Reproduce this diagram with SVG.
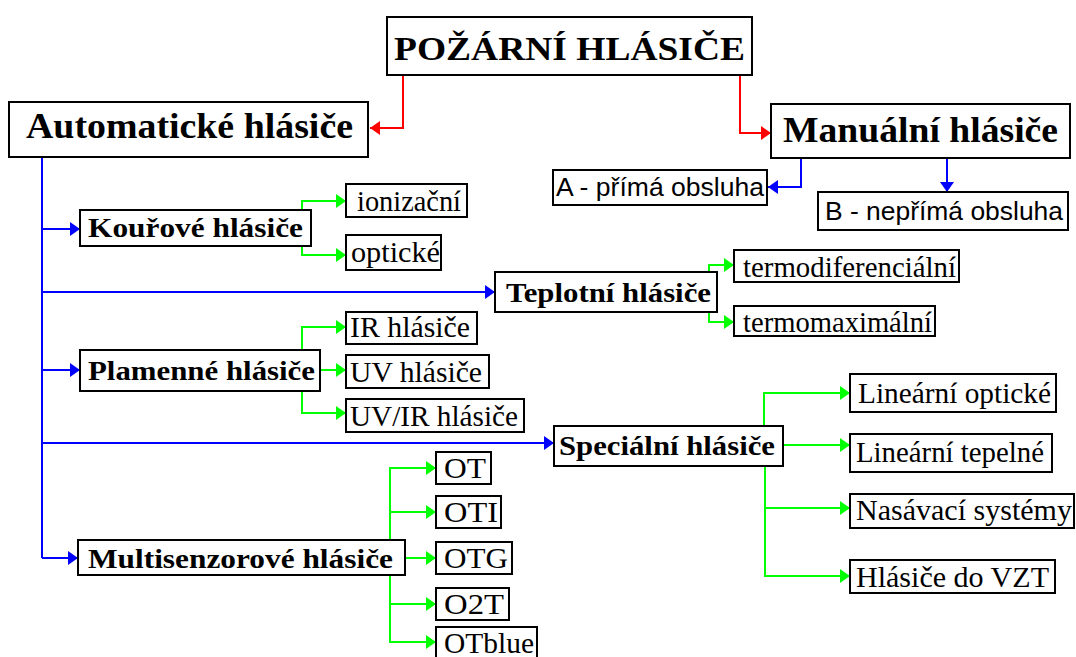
<svg xmlns="http://www.w3.org/2000/svg" width="1076" height="657" viewBox="0 0 1076 657">
<style>
.box{fill:#fff;stroke:#000;stroke-width:2}
.tb{font-family:"Liberation Serif","Times New Roman",serif;font-weight:bold;fill:#000}
.tr{font-family:"Liberation Serif","Times New Roman",serif;fill:#000;font-size:29px}
.ts{font-family:"Liberation Sans",Arial,sans-serif;fill:#000;font-size:25px}
.r{fill:none;stroke:#ff0000;stroke-width:2}
.b{fill:none;stroke:#0000ff;stroke-width:2}
.g{fill:none;stroke:#00ff00;stroke-width:2}
</style>
<defs>
<marker id="ar" markerUnits="userSpaceOnUse" markerWidth="10" markerHeight="14" refX="10" refY="7" orient="auto"><path d="M0,0 L10,7 L0,14 z" fill="#ff0000"/></marker>
<marker id="ab" markerUnits="userSpaceOnUse" markerWidth="10" markerHeight="14" refX="10" refY="7" orient="auto"><path d="M0,0 L10,7 L0,14 z" fill="#0000ff"/></marker>
<marker id="ag" markerUnits="userSpaceOnUse" markerWidth="10" markerHeight="14" refX="10" refY="7" orient="auto"><path d="M0,0 L10,7 L0,14 z" fill="#00ff00"/></marker>
</defs>
<rect width="1076" height="657" fill="#fff"/>
<g id="connectors">
<path class="r" marker-end="url(#ar)" d="M403,76 V128 H370"/>
<path class="r" marker-end="url(#ar)" d="M740,76 V133 H771"/>
<path class="b" d="M42,157 V558"/>
<path class="b" marker-end="url(#ab)" d="M42,229 H80"/>
<path class="b" marker-end="url(#ab)" d="M42,292 H495"/>
<path class="b" marker-end="url(#ab)" d="M42,370 H80"/>
<path class="b" marker-end="url(#ab)" d="M42,443 H554"/>
<path class="b" marker-end="url(#ab)" d="M42,558 H78"/>
<path class="b" marker-end="url(#ab)" d="M801,158 V187 H768"/>
<path class="b" marker-end="url(#ab)" d="M947,158 V192"/>
<path class="g" marker-end="url(#ag)" d="M302,210 V201 H346"/>
<path class="g" marker-end="url(#ag)" d="M302,246 V255 H346"/>
<path class="g" marker-end="url(#ag)" d="M709,272 V265 H734"/>
<path class="g" marker-end="url(#ag)" d="M709,312 V322 H734"/>
<path class="g" marker-end="url(#ag)" d="M302,350 V327 H346"/>
<path class="g" marker-end="url(#ag)" d="M320,370 H346"/>
<path class="g" marker-end="url(#ag)" d="M302,391 V413 H346"/>
<path class="g" marker-end="url(#ag)" d="M764,426 V393 H850"/>
<path class="g" marker-end="url(#ag)" d="M783,445 H850"/>
<path class="g" marker-end="url(#ag)" d="M765,466 V576 H850"/>
<path class="g" marker-end="url(#ag)" d="M765,508 H850"/>
<path class="g" marker-end="url(#ag)" d="M390,540 V468 H436"/>
<path class="g" marker-end="url(#ag)" d="M390,512 H436"/>
<path class="g" marker-end="url(#ag)" d="M405,558 H436"/>
<path class="g" marker-end="url(#ag)" d="M390,575 V642 H436"/>
<path class="g" marker-end="url(#ag)" d="M390,604 H436"/>
</g>
<g id="n-title"><rect class="box" x="387" y="17" width="365" height="58"/><text class="tb" font-size="34" x="394" y="60" textLength="351" lengthAdjust="spacingAndGlyphs">POŽÁRNÍ HLÁSIČE</text></g>
<g id="n-auto"><rect class="box" x="9" y="102" width="359" height="55"/><text class="tb" font-size="36" x="26" y="138" textLength="327" lengthAdjust="spacingAndGlyphs">Automatické hlásiče</text></g>
<g id="n-manual"><rect class="box" x="771" y="104" width="299" height="54"/><text class="tb" font-size="36" x="783" y="142" textLength="275" lengthAdjust="spacingAndGlyphs">Manuální hlásiče</text></g>
<g id="n-a"><rect class="box" x="553" y="170" width="214" height="35"/><text class="ts" x="556" y="196" textLength="208" lengthAdjust="spacingAndGlyphs">A - přímá obsluha</text></g>
<g id="n-b"><rect class="box" x="818" y="192" width="250" height="38"/><text class="ts" x="825" y="220" textLength="238" lengthAdjust="spacingAndGlyphs">B - nepřímá obsluha</text></g>
<g id="n-kour"><rect class="box" x="80" y="210" width="231" height="36"/><text class="tb" font-size="28" x="88" y="237" textLength="215" lengthAdjust="spacingAndGlyphs">Kouřové hlásiče</text></g>
<g id="n-ioniz"><rect class="box" x="346" y="184" width="121" height="33"/><text class="tr" x="357" y="211" textLength="104" lengthAdjust="spacingAndGlyphs">ionizační</text></g>
<g id="n-opt"><rect class="box" x="346" y="235" width="95" height="35"/><text class="tr" x="351" y="262" textLength="89" lengthAdjust="spacingAndGlyphs">optické</text></g>
<g id="n-tepl"><rect class="box" x="495" y="272" width="222" height="40"/><text class="tb" font-size="28" x="506" y="302" textLength="205" lengthAdjust="spacingAndGlyphs">Teplotní hlásiče</text></g>
<g id="n-tdif"><rect class="box" x="734" y="250" width="225" height="32"/><text class="tr" x="743" y="277" textLength="213" lengthAdjust="spacingAndGlyphs">termodiferenciální</text></g>
<g id="n-tmax"><rect class="box" x="734" y="306" width="201" height="30"/><text class="tr" x="743" y="332" textLength="189" lengthAdjust="spacingAndGlyphs">termomaximální</text></g>
<g id="n-plam"><rect class="box" x="80" y="350" width="240" height="41"/><text class="tb" font-size="28" x="88" y="380" textLength="227" lengthAdjust="spacingAndGlyphs">Plamenné hlásiče</text></g>
<g id="n-ir"><rect class="box" x="346" y="312" width="131" height="32"/><text class="tr" x="350" y="337" textLength="120" lengthAdjust="spacingAndGlyphs">IR hlásiče</text></g>
<g id="n-uv"><rect class="box" x="346" y="355" width="143" height="33"/><text class="tr" x="350" y="382" textLength="132" lengthAdjust="spacingAndGlyphs">UV hlásiče</text></g>
<g id="n-uvir"><rect class="box" x="346" y="399" width="178" height="33"/><text class="tr" x="350" y="426" textLength="168" lengthAdjust="spacingAndGlyphs">UV/IR hlásiče</text></g>
<g id="n-spec"><rect class="box" x="554" y="426" width="229" height="40"/><text class="tb" font-size="28" x="559" y="455" textLength="216" lengthAdjust="spacingAndGlyphs">Speciální hlásiče</text></g>
<g id="n-linopt"><rect class="box" x="850" y="374" width="206" height="38"/><text class="tr" x="858" y="403" textLength="193" lengthAdjust="spacingAndGlyphs">Lineární optické</text></g>
<g id="n-lintep"><rect class="box" x="850" y="434" width="202" height="38"/><text class="tr" x="856" y="462" textLength="188" lengthAdjust="spacingAndGlyphs">Lineární tepelné</text></g>
<g id="n-nasav"><rect class="box" x="850" y="494" width="224" height="34"/><text class="tr" x="856" y="520" textLength="216" lengthAdjust="spacingAndGlyphs">Nasávací systémy</text></g>
<g id="n-vzt"><rect class="box" x="850" y="560" width="205" height="33"/><text class="tr" x="856" y="587" textLength="193" lengthAdjust="spacingAndGlyphs">Hlásiče do VZT</text></g>
<g id="n-multi"><rect class="box" x="78" y="540" width="327" height="35"/><text class="tb" font-size="28" x="88" y="568" textLength="305" lengthAdjust="spacingAndGlyphs">Multisenzorové hlásiče</text></g>
<g id="n-ot"><rect class="box" x="436" y="452" width="55" height="32"/><text class="tr" x="444" y="478" textLength="42" lengthAdjust="spacingAndGlyphs">OT</text></g>
<g id="n-oti"><rect class="box" x="436" y="496" width="65" height="32"/><text class="tr" x="444" y="522" textLength="54" lengthAdjust="spacingAndGlyphs">OTI</text></g>
<g id="n-otg"><rect class="box" x="436" y="542" width="76" height="32"/><text class="tr" x="444" y="568" textLength="64" lengthAdjust="spacingAndGlyphs">OTG</text></g>
<g id="n-o2t"><rect class="box" x="436" y="588" width="73" height="32"/><text class="tr" x="444" y="614" textLength="60" lengthAdjust="spacingAndGlyphs">O2T</text></g>
<g id="n-otblue"><rect class="box" x="436" y="627" width="101" height="35"/><text class="tr" x="444" y="653" textLength="90" lengthAdjust="spacingAndGlyphs">OTblue</text></g>
</svg>
